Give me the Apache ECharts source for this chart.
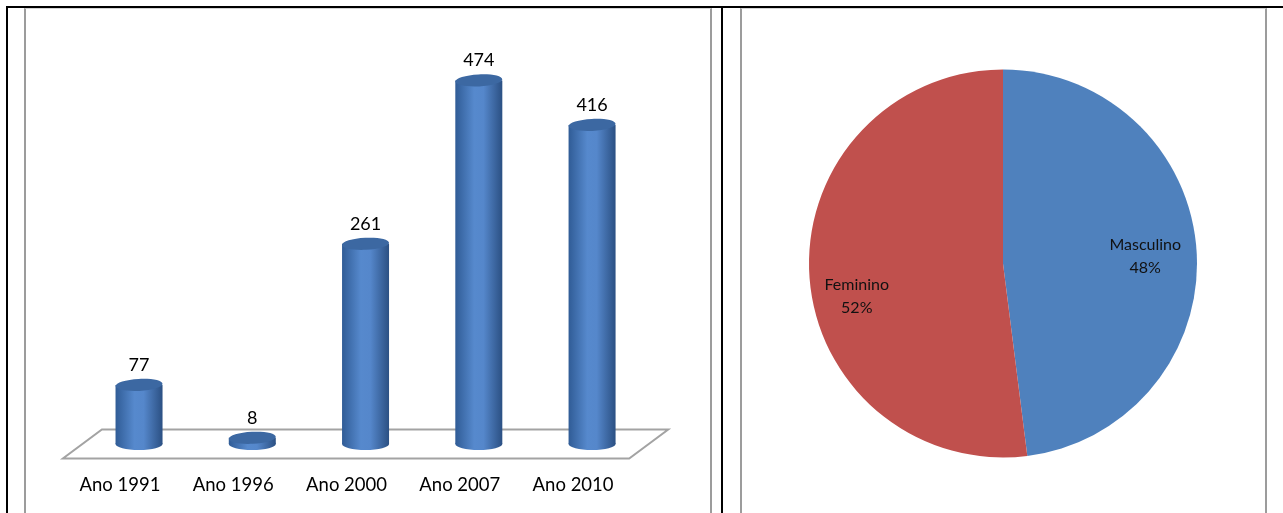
<!DOCTYPE html>
<html>
<head>
<meta charset="utf-8">
<script src="https://cdn.jsdelivr.net/npm/echarts@6/dist/echarts.min.js"></script>
<style>
  html, body { margin: 0; padding: 0; background: #fff; }
  #main { position: absolute; left: 0; top: 0; width: 1283px; height: 513px; }
  .line { position: absolute; }
</style>
</head>
<body>
<div id="main"></div>
<!-- table borders -->
<div class="line" style="left:6px;top:6px;width:1277px;height:2px;background:#000"></div>
<div class="line" style="left:6px;top:6px;width:2px;height:507px;background:#000"></div>
<div class="line" style="left:721px;top:6px;width:2px;height:507px;background:#000"></div>
<!-- chart object frames -->
<div class="line" style="left:24px;top:8px;width:684px;height:505px;border-left:2px solid #9c9c9c;border-right:2px solid #9c9c9c;border-top:1px solid #d4d4d4"></div>
<div class="line" style="left:740px;top:8px;width:523px;height:505px;border-left:2px solid #9c9c9c;border-right:2px solid #9c9c9c;border-top:1px solid #d4d4d4"></div>
<script>
var anos = ['Ano 1991', 'Ano 1996', 'Ano 2000', 'Ano 2007', 'Ano 2010'];
var valores = [77, 8, 261, 474, 416];

var sexos = ['Masculino', 'Feminino'];
var percentuais = [48, 52];

var FONT = 'Lato, "Liberation Sans", sans-serif';

var myChart = echarts.init(document.getElementById('main'));

var corpo = new echarts.graphic.LinearGradient(0, 0, 1, 0, [
  { offset: 0, color: '#305c96' },
  { offset: 0.4, color: '#5689cd' },
  { offset: 0.6, color: '#5587cb' },
  { offset: 1, color: '#2b5083' }
]);

function cilindro(params, api) {
  var topo = api.coord([api.value(0), api.value(1)]);
  var base = api.coord([api.value(0), 0]);
  var w = api.size([1, 0])[0] * 0.415;
  var rx = w / 2, ry = 6;
  return {
    type: 'group',
    children: [
      { type: 'ellipse', shape: { cx: base[0], cy: base[1], rx: rx, ry: ry }, style: { fill: corpo } },
      { type: 'rect', shape: { x: base[0] - rx, y: topo[1], width: w, height: base[1] - topo[1] }, style: { fill: corpo } },
      { type: 'ellipse', shape: { cx: topo[0], cy: topo[1], rx: rx, ry: ry },
        rotation: 0.05, originX: topo[0], originY: topo[1],
        style: { fill: '#3c68a2' } },
      { type: 'text', x: topo[0], y: topo[1] - ry - 5,
        style: { text: String(api.value(1)), fill: '#000', font: '18px ' + FONT, align: 'center', verticalAlign: 'bottom' } }
    ]
  };
}

function piso(params, api) {
  var cs = params.coordSys;
  var yb = cs.y + cs.height;
  var dx = 19.5, dy = 14.5;
  return {
    type: 'polygon',
    shape: { points: [
      [cs.x + dx, yb - dy], [cs.x + cs.width + dx, yb - dy],
      [cs.x + cs.width - dx, yb + dy], [cs.x - dx, yb + dy]
    ] },
    style: { fill: '#fff', stroke: '#a3a3a3', lineWidth: 2 }
  };
}

var option = {
  animation: false,
  grid: { left: 82.4, width: 566.3, top: 60.5, bottom: 69 },
  xAxis: {
    type: 'category',
    data: anos,
    axisLine: { show: false },
    axisTick: { show: false },
    axisLabel: { color: '#000', fontSize: 18.5, fontFamily: FONT, margin: 32, padding: [0, 38, 0, 0] }
  },
  yAxis: { type: 'value', min: 0, max: 500, show: false, splitLine: { show: false } },
  series: [
    { type: 'custom', renderItem: piso, data: [[0, 0]], silent: true, z: 1 },
    { type: 'custom', renderItem: cilindro, data: valores.map(function (v, i) { return [i, v]; }), z: 2 },
    {
      type: 'pie',
      center: [1003, 263.5],
      radius: 194,
      startAngle: 90,
      clockwise: true,
      label: { show: false },
      labelLine: { show: false },
      silent: true,
      data: sexos.map(function (s, i) {
        return { name: s, value: percentuais[i], itemStyle: { color: i === 0 ? '#4f81bd' : '#c0504d' } };
      })
    },
    {
      type: 'pie',
      center: [1003, 263.5],
      radius: [85, 194],
      startAngle: 90,
      clockwise: true,
      silent: true,
      itemStyle: { color: 'rgba(0,0,0,0)' },
      label: {
        show: true,
        position: 'inside',
        color: '#111',
        fontSize: 16,
        fontFamily: FONT,
        lineHeight: 23,
        formatter: function (p) { return p.name + '\n' + Math.round(p.percent) + '%'; }
      },
      labelLine: { show: false },
      data: sexos.map(function (s, i) {
        var d = { name: s, value: percentuais[i] };
        d.label = { offset: i === 1 ? [-4, 24] : [0, 2] };
        return d;
      })
    }
  ]
};
myChart.setOption(option);
</script>
</body>
</html>
